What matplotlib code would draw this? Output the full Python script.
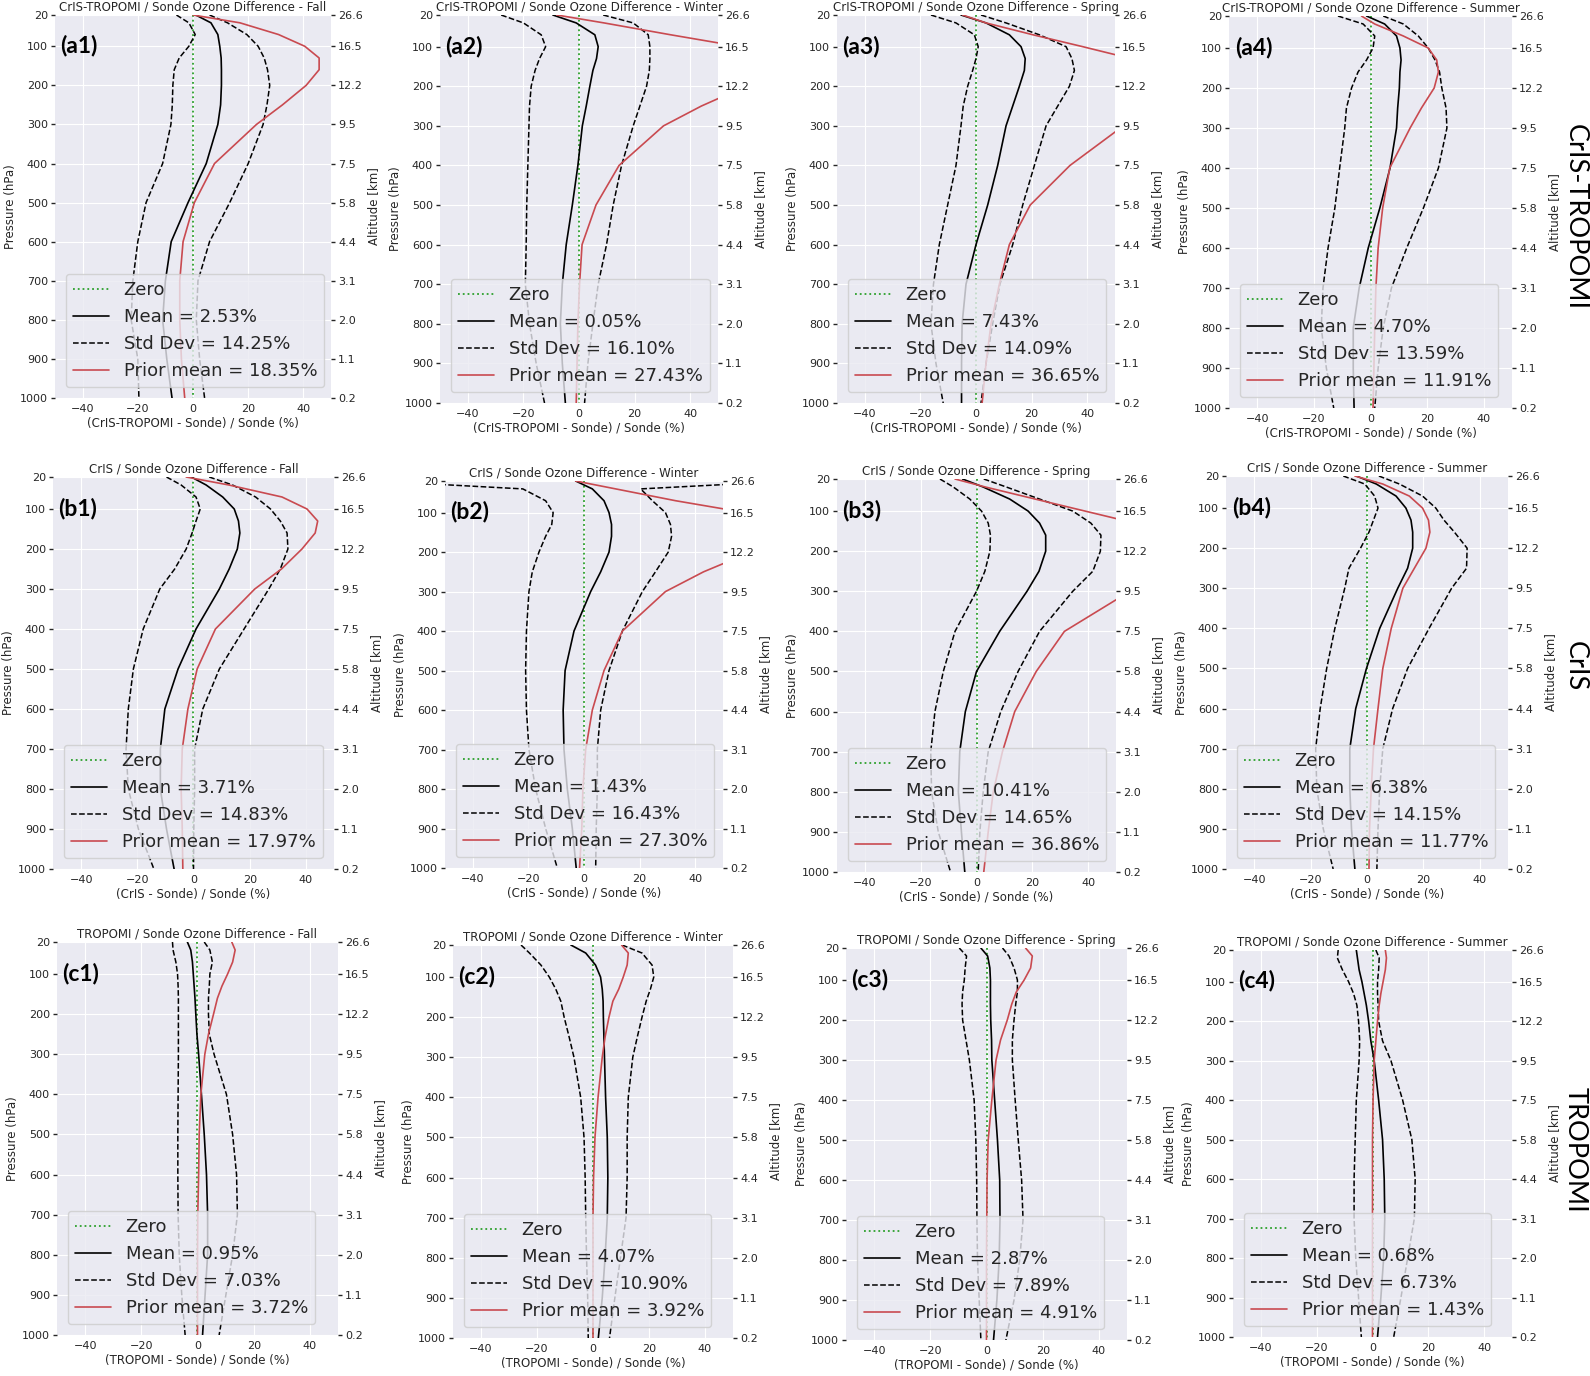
import matplotlib
matplotlib.use('Agg')
import matplotlib.pyplot as plt
import seaborn as sns
import numpy as np

sns.set_style('darkgrid')
plt.rcParams['font.family'] = ['DejaVu Sans']

# ---- data ----
pressure = [20, 40, 70, 100, 130, 160, 200, 250, 300, 400, 500, 600, 700, 800, 900, 1000]
pressure_ticks = [20, 100, 200, 300, 400, 500, 600, 700, 800, 900, 1000]
altitude_labels = ['26.6', '16.5', '12.2', '9.5', '7.5', '5.8', '4.4', '3.1', '2.0', '1.1', '0.2']
seasons = ['Fall', 'Winter', 'Spring', 'Summer']
instruments = ['CrIS-TROPOMI', 'CrIS', 'TROPOMI']
row_letters = ['a', 'b', 'c']

mean_pct = [[2.53, 0.05, 7.43, 4.70], [3.71, 1.43, 10.41, 6.38], [0.95, 4.07, 2.87, 0.68]]
std_pct = [[14.25, 16.10, 14.09, 13.59], [14.83, 16.43, 14.65, 14.15], [7.03, 10.90, 7.89, 6.73]]
prior_pct = [[18.35, 27.43, 36.65, 11.91], [17.97, 27.30, 36.86, 11.77], [3.72, 3.92, 4.91, 1.43]]

# CrIS-TROPOMI
a1_mean = [1, 6.5, 9, 9.7, 10.2, 10.3, 10.3, 10, 9, 4.8, -1.8, -7.9, -10, -11, -9.5, -7.6]
a1_lo = [-6, -1.5, 0.8, -1.5, -5, -6.8, -7.3, -7.5, -8, -11, -17, -20, -21.8, -22.4, -20, -19.6]
a1_hi = [6, 12.5, 19.5, 23.6, 25.8, 27, 27.8, 26.8, 25.4, 20, 13.3, 6, 1.8, 1.2, 2.4, 4.2]
a1_prior = [0, 17, 31, 40.5, 45.7, 45.7, 41, 32.4, 23, 7.8, 0.5, -3.6, -4.8, -4.8, -4.2, -3]

a2_mean = [-9.4, -1, 5.7, 6.9, 6.3, 5, 3.9, 2.6, 1.2, -0.4, -2.4, -4.6, -6, -6.7, -6, -4.9]
a2_lo = [-28, -20, -13.6, -12, -14.2, -15.8, -17.2, -17.8, -18, -18.4, -18.8, -19, -19.3, -17.8, -15.4, -12.4]
a2_hi = [8.7, 19.5, 24.9, 25.5, 25.5, 25.3, 24.3, 21.9, 19.5, 15.3, 12.3, 9.9, 6.9, 5, 3.2, 2]
a2_prior = [-8, 9, 33, 58, 68, 68, 60, 44, 30.4, 14.4, 6.1, 1.1, 0.2, -0.4, -0.7, -1]

a3_mean = [-5.4, 3.6, 12, 16.2, 17.7, 17.4, 15.6, 13.2, 10.8, 7.8, 4.2, 0, -3.6, -5, -5.2, -5.2]
a3_lo = [-16.2, -7.2, -0.6, 0.8, 0, -1.2, -3, -4.6, -5.4, -7.2, -10.2, -13.2, -15.3, -16.2, -14.4, -11.8]
a3_hi = [1.8, 10.8, 22.8, 32.4, 34.5, 35.4, 33.6, 29.4, 25.2, 21, 16.8, 13.2, 8.6, 6, 3.6, 1.8]
a3_prior = [-4.8, 3.6, 20.5, 38.4, 55.7, 68, 72, 62, 53, 33.8, 19.5, 12, 8.4, 5.4, 3.6, 2.2]

a4_mean = [-1.4, 5, 9.2, 10.4, 10.8, 10.4, 10.2, 9.6, 9.2, 6.9, 3.3, -0.8, -4, -6.1, -6.1, -5.8]
a4_lo = [-11.5, -2.6, 1.5, 0.9, -1.4, -4.4, -6.7, -8.5, -9.1, -10.9, -12.6, -15, -16.8, -17.4, -15.6, -13]
a4_hi = [4.5, 11.6, 16.9, 20.4, 22.8, 24.4, 25.2, 26.7, 27, 24, 18.7, 12.8, 7.4, 4.5, 2.7, 1.5]
a4_prior = [-3.2, 1.5, 11.6, 20.4, 23.4, 24, 22.5, 18, 14, 6.8, 4.3, 2.7, 1.9, 1.5, 1.2, 0.9]

# CrIS
b1_mean = [-0.8, 4.5, 10.4, 14.5, 16, 16.5, 15.6, 12.7, 9.2, 0.9, -5.5, -10.2, -11.8, -11.8, -9.6, -6.9]
b1_lo = [-9.6, -4.4, 0.9, 2.4, 0.9, -0.5, -2.6, -6.7, -12, -17.9, -21.4, -23.2, -24, -23.2, -19.6, -14.1]
b1_hi = [5.6, 13.9, 22.1, 27.4, 30.9, 33.3, 33.6, 30.9, 26.8, 18, 9.2, 3.3, 0.4, 0.4, 0.1, 0]
b1_prior = [-2.6, 12.6, 31.5, 40.4, 44.2, 43.3, 38.6, 31.3, 21.8, 7.8, 1.3, -2, -4, -4.4, -4, -3.8]

b2_mean = [-3, 3, 7.2, 9, 9.9, 9.9, 9, 6, 2.4, -3.6, -6.8, -7.5, -7.2, -6, -4.2, -2.8]
b2_lo = [-75, -22, -13.8, -11.1, -11.6, -13.8, -16.2, -18.6, -19.8, -20.7, -21, -20.7, -19.8, -17.4, -13.8, -9.6]
b2_hi = [75, 20.4, 24.6, 29.3, 31.1, 31.5, 30.3, 25.7, 21, 13.8, 9, 6, 4.8, 4.8, 4.4, 4.2]
b2_prior = [-3, 11.4, 33, 58, 68, 70, 60, 43, 29.3, 13.8, 7.2, 3, 0.6, -0.4, -0.8, -1.6]

b3_mean = [-5, 2.4, 11.9, 18.5, 22.6, 24.8, 24.8, 22.4, 18.1, 8.3, 0, -4, -6, -6.5, -5.4, -4.2]
b3_lo = [-13.1, -8.3, -2.4, 1.8, 4.2, 5, 4.8, 3, 0, -7.7, -11.9, -14.9, -16.4, -16.1, -13.7, -9.3]
b3_hi = [2.6, 10.7, 22.6, 34.5, 41, 44.6, 44.4, 41.7, 34.5, 22.6, 14.9, 8.7, 4.2, 2.4, 1.2, 0.6]
b3_prior = [-7.7, 3.2, 21, 38.9, 56.8, 68, 70, 64, 55, 31.5, 21.4, 13.7, 9.3, 6, 4.2, 2.6]

b4_mean = [-3.8, 3.3, 10.3, 13.8, 15.6, 16.2, 16.2, 14.4, 10.9, 4.5, -0.2, -4, -6.1, -6.1, -5.5, -4.3]
b4_lo = [-8.4, -0.8, 2.7, 3.9, 2.3, 0.7, -2.3, -6.4, -7.9, -11.4, -14.3, -16.6, -18.2, -17.8, -15.5, -12]
b4_hi = [4.2, 11.5, 19.7, 24.4, 27.3, 31, 35.5, 35.3, 30, 22, 14.4, 9.1, 5.6, 4.5, 3.9, 3.5]
b4_prior = [-4.3, 5.6, 15, 19.7, 21.8, 22.3, 20.9, 16.8, 12.7, 8.6, 5.6, 3.9, 2.3, 1.5, 0.9, 0.7]

# TROPOMI
c1_mean = [-3.6, -2.4, -1.8, -1.5, -1.2, -0.9, -0.6, -0.2, 0.4, 1.4, 2.4, 3.2, 3.6, 3.6, 2.7, 1.8]
c1_lo = [-8.9, -8.7, -7.7, -7.1, -6.9, -6.8, -6.8, -6.8, -6.8, -6.9, -7, -7, -6.9, -6.5, -5.6, -4.4]
c1_hi = [2.4, 4.4, 5.3, 4.4, 4.2, 3.9, 3.9, 4.2, 5.9, 10.3, 12.5, 13.9, 14.2, 12.5, 10.1, 7.7]
c1_prior = [12.2, 13.4, 12.5, 10.7, 8.7, 7.1, 5.7, 3.9, 2.6, 1.2, 0.6, 0.4, 0.1, 0, 0, 0]

c2_mean = [-7.9, -2.6, 0.9, 2.7, 3.3, 3.6, 3.7, 3.9, 4.1, 4.5, 5.1, 5.3, 5.1, 4.3, 3.3, 1.9]
c2_lo = [-25.7, -22.7, -18.6, -15.6, -13.3, -11.5, -10.3, -8.5, -6.8, -4.4, -3.2, -2.8, -2.6, -2.3, -1.9, -1.7]
c2_hi = [10.4, 17.5, 21.1, 21.7, 20.5, 19, 17.5, 15.8, 14.2, 12.6, 12.2, 12.2, 11.8, 9.8, 7.8, 5.9]
c2_prior = [10.2, 12.6, 12.2, 10.8, 9.2, 7.1, 5.7, 4.3, 3.3, 1.8, 0.7, 0.2, 0, 0, 0, 0]

c3_mean = [-2, 0.4, 1.2, 1.4, 1.4, 1.4, 1.5, 1.8, 1.9, 2.9, 3.9, 4.7, 4.8, 4.5, 3.7, 2.5]
c3_lo = [-9.7, -7.1, -7.6, -7.9, -8.5, -8.7, -8.5, -7.3, -6.1, -4.4, -3.8, -3.5, -3.4, -3.2, -2.6, -2]
c3_hi = [5.7, 8, 9.8, 11, 11, 10.4, 9.8, 9.2, 9.2, 10.2, 11.3, 12.5, 13, 11.8, 9.8, 6.9]
c3_prior = [13.9, 16.3, 15.7, 13.4, 10.6, 9, 7.4, 5, 3.4, 1.9, 0.6, 0.2, 0.1, 0, 0, 0]

c4_mean = [-5.8, -5.4, -4.8, -3.8, -3, -2.2, -1.4, -0.6, 0.6, 2.2, 3.6, 4.2, 4.4, 4, 3, 1.8]
c4_lo = [-12.3, -12.6, -10.8, -8.6, -6.8, -5.6, -5, -4.6, -4.8, -5.8, -6.2, -6.6, -6.6, -6, -5, -4]
c4_hi = [1.2, 2.4, 2.2, 1.8, 1.8, 2, 2.2, 3.6, 6.6, 10.8, 14.1, 15.3, 15, 12.6, 10.2, 7.6]
c4_prior = [4.6, 5, 4.6, 3.8, 3, 2.4, 1.8, 1.2, 0.6, 0.2, 0, 0, 0, 0, 0, 0]

profiles = {
    'a1': (a1_mean, a1_lo, a1_hi, a1_prior), 'a2': (a2_mean, a2_lo, a2_hi, a2_prior),
    'a3': (a3_mean, a3_lo, a3_hi, a3_prior), 'a4': (a4_mean, a4_lo, a4_hi, a4_prior),
    'b1': (b1_mean, b1_lo, b1_hi, b1_prior), 'b2': (b2_mean, b2_lo, b2_hi, b2_prior),
    'b3': (b3_mean, b3_lo, b3_hi, b3_prior), 'b4': (b4_mean, b4_lo, b4_hi, b4_prior),
    'c1': (c1_mean, c1_lo, c1_hi, c1_prior), 'c2': (c2_mean, c2_lo, c2_hi, c2_prior),
    'c3': (c3_mean, c3_lo, c3_hi, c3_prior), 'c4': (c4_mean, c4_lo, c4_hi, c4_prior),
}

# panel boxes in pixels: left, top, right, bottom
W, H = 1590, 1376
panel_px = [
    [(55, 15, 331, 398), (440, 15, 718, 403), (837, 15, 1115, 403), (1229, 16, 1512, 408)],
    [(53, 477, 334, 869), (445, 481, 723, 868), (837, 479, 1116, 872), (1226, 476, 1508, 869)],
    [(57, 942, 338, 1335), (453, 945, 733, 1338), (846, 948, 1127, 1340), (1233, 950, 1512, 1337)],
]
row_label_y = [217, 666, 1150]

red = '#c94a50'
green = '#2ca02c'
txt = '0.15'

fig = plt.figure(figsize=(W / 100, H / 100), dpi=100)

for r, inst in enumerate(instruments):
    for c, season in enumerate(seasons):
        l, t, rt, b = panel_px[r][c]
        ax = fig.add_axes([l / W, 1 - b / H, (rt - l) / W, (b - t) / H])
        mean, lo, hi, prior = profiles[row_letters[r] + str(c + 1)]

        ax.plot(np.zeros(len(pressure)), pressure, color=green, ls=':', lw=1.3, label='Zero')
        ax.plot(mean, pressure, color='k', lw=1.2, label='Mean = %.2f%%' % mean_pct[r][c])
        ax.plot(lo, pressure, color='k', ls='--', lw=1.1, label='Std Dev = %.2f%%' % std_pct[r][c])
        ax.plot(hi, pressure, color='k', ls='--', lw=1.1)
        ax.plot(prior, pressure, color=red, lw=1.2, label='Prior mean = %.2f%%' % prior_pct[r][c])

        ax.set_xlim(-50, 50)
        ax.set_ylim(1000, 20)
        ax.set_xticks([-40, -20, 0, 20, 40])
        ax.set_yticks(pressure_ticks)
        ax.tick_params(axis='x', length=0, labelsize=8, labelcolor=txt, pad=4)
        ax.tick_params(axis='y', length=3, width=1, color=txt, labelsize=8, labelcolor=txt, pad=2)
        for s in ax.spines.values():
            s.set_visible(False)

        ax.set_title('%s / Sonde Ozone Difference - %s' % (inst, season), fontsize=8.5, color=txt, pad=3)
        ax.set_xlabel('(%s - Sonde) / Sonde (%%)' % inst, fontsize=8.5, color=txt, labelpad=2)
        ax.set_ylabel('Pressure (hPa)', fontsize=8.5, color=txt, labelpad=2)

        leg = ax.legend(loc='lower left', fontsize=13, framealpha=0.8, borderaxespad=0.6)
        for tx in leg.get_texts():
            tx.set_color(txt)
        leg.get_frame().set_edgecolor('0.8')

        ax.text(0.02, 0.92, '(%s%d)' % (row_letters[r], c + 1), transform=ax.transAxes,
                fontsize=16.5, family='Lato', fontweight='bold', va='center', ha='left', color='k')

        ax2 = ax.twinx()
        ax2.set_ylim(1000, 20)
        ax2.set_yticks(pressure_ticks)
        ax2.set_yticklabels(altitude_labels)
        ax2.grid(False)
        ax2.tick_params(axis='y', length=3, width=1, color=txt, labelsize=8, labelcolor=txt, pad=2)
        for s in ax2.spines.values():
            s.set_visible(False)
        ax2.set_ylabel('Altitude [km]', fontsize=8.5, color=txt, labelpad=3)

    fig.text(1575 / W, 1 - row_label_y[r] / H, inst, rotation=270, va='center', ha='center',
             fontsize=19.5, family='Lato', color='k')

fig.savefig('out.png', dpi=100)
